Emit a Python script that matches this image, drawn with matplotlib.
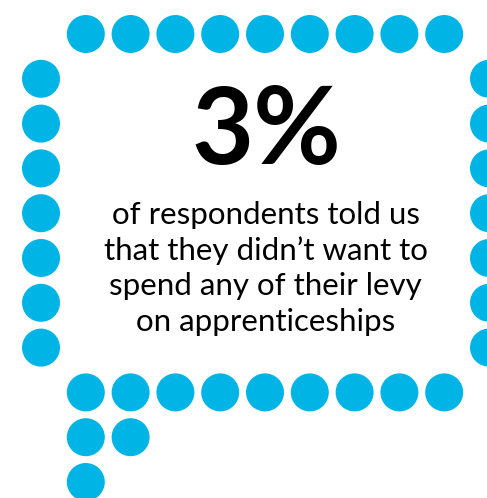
import matplotlib
matplotlib.use('Agg')
import matplotlib.pyplot as plt
from matplotlib.patches import Circle

# точки "облачка" на сетке: (столбец, строка)
top_row = [(c, 0) for c in range(1, 10)]
left_col = [(0, r) for r in range(1, 8)]
right_col = [(10, r) for r in range(1, 8)]
bottom_row = [(c, 8) for c in range(1, 10)]
tail = [(1, 9), (2, 9), (1, 10)]

big_number = '3%'
caption_lines = [
    'of respondents told us',
    'that they didn\u2019t want to',
    'spend any of their levy',
    'on apprenticeships',
]

dot_color = '#00b5e5'

fig = plt.figure(figsize=(4.87, 4.98), dpi=100)
ax = fig.add_axes([0, 0, 1, 1])
ax.set_xlim(0, 487)
ax.set_ylim(498, 0)
ax.axis('off')

# шаг сетки и радиус точек в пикселях
step = 44.8
x0, y0 = 41, 34
radius = 19

for c, r in top_row + left_col + right_col + bottom_row + tail:
    ax.add_patch(Circle((x0 + c * step, y0 + r * step), radius, color=dot_color, lw=0))

# большое число
ax.text(266, 133, big_number, ha='center', va='center', fontsize=77,
        fontfamily='Lato', fontweight='bold', color='black')

# подпись
for i, line in enumerate(caption_lines):
    ax.text(265.5, 215 + i * 35.5, line, ha='center', va='center', fontsize=22.5,
            fontfamily='Lato', color='black')

fig.savefig('out.png', dpi=100)
